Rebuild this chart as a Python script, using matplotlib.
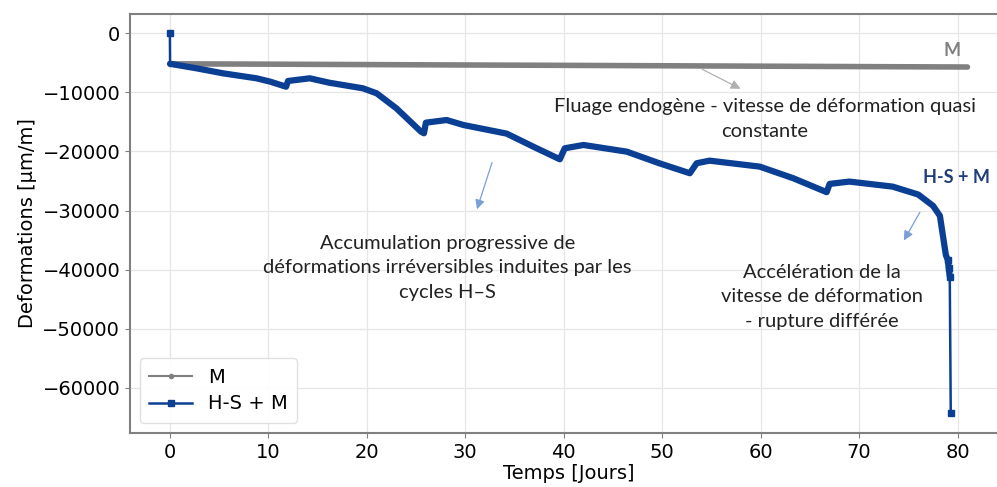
import matplotlib.pyplot as plt
import numpy as np

# M : fluage endogene seul
t_m = [0.0, 10, 20, 30, 40, 50, 60, 70, 81.0]
d_m = [-5200, -5260, -5330, -5400, -5460, -5530, -5600, -5670, -5740]

# H-S + M : cycles humidification-sechage + chargement
t_hs = [0.0, 0.02, 2.7, 5.4, 8.8, 10.2, 11.8, 12.0, 14.2, 16.2, 19.6, 21.0, 23.0,
        25.5, 25.8, 26.0, 28.1, 29.8, 34.2, 36.9, 39.6, 40.1, 42.0, 46.4, 49.7,
        52.8, 53.5, 54.8, 59.9, 63.3, 66.7, 67.0, 69.0, 73.4, 76.0, 77.5, 78.2,
        78.5, 78.8, 79.0, 79.1, 79.2, 79.3]
d_hs = [0, -5200, -5960, -6810, -7650, -8220, -9070, -8100, -7650, -8400, -9340,
        -10190, -12720, -16670, -16940, -15150, -14700, -15540, -17000, -19200,
        -21340, -19480, -18920, -20050, -22010, -23700, -22010, -21570, -22580,
        -24540, -26900, -25500, -25110, -25960, -27300, -29200, -30900, -34200,
        -37500, -38350, -39750, -41160, -64240]

grey = '#808080'
blue = '#0b3f93'
arrow_blue = '#7a9fd8'

fig = plt.figure(figsize=(9.97, 4.87), dpi=100)
ax = fig.add_axes([0.1304, 0.111, 0.880, 0.860])

# traits epais (nuage de points dense dans l'original)
ax.plot(t_m, d_m, color=grey, lw=4, solid_capstyle='round', zorder=2)
ax.plot(t_hs[1:-1], d_hs[1:-1], color=blue, lw=4.5, solid_joinstyle='round',
        solid_capstyle='round', zorder=3)
# series completes (legende)
ax.plot(t_m, d_m, color=grey, lw=1.5, marker='o', ms=3, markevery=[0], label='M', zorder=2)
ax.plot(t_hs, d_hs, color=blue, lw=1.8, marker='s', ms=4.5,
        markevery=[0, len(t_hs) - 4, len(t_hs) - 3, len(t_hs) - 2, len(t_hs) - 1],
        label='H-S + M', zorder=3)

ax.set_xlim(-4.05, 85.05)
ax.set_ylim(-67600, 3200)
ax.set_xticks([0, 10, 20, 30, 40, 50, 60, 70, 80])
ax.set_yticks([0, -10000, -20000, -30000, -40000, -50000, -60000])
ax.tick_params(labelsize=14, color=grey)
ax.grid(True, color='#e6e6e6', lw=0.9)
ax.set_axisbelow(True)
for s in ax.spines.values():
    s.set_color(grey)
    s.set_linewidth(1.5)

ax.set_xlabel('Temps [Jours]', fontsize=14, labelpad=2)
ax.set_ylabel('Deformations [µm/m]', fontsize=14)

leg = ax.legend(loc='lower left', fontsize=14, handlelength=2.2, borderpad=0.5,
                labelspacing=0.4, framealpha=0.9, edgecolor='#dddddd')

fnt = 'Lato'
fs = 14.5
ls = 1.55
ax.annotate('', xy=(58.2, -9630), xytext=(53.8, -5910),
            arrowprops=dict(arrowstyle='-|>', color='#b0b0b0', lw=0.9, mutation_scale=14))
ax.text(60.4, -14530, 'Fluage endogène - vitesse de déformation quasi\nconstante',
        ha='center', va='center', fontsize=fs, family=fnt, color='#222222', linespacing=ls)

ax.annotate('', xy=(31.1, -30240), xytext=(32.8, -21450),
            arrowprops=dict(arrowstyle='-|>', color=arrow_blue, lw=0.9, mutation_scale=14))
ax.text(28.2, -39700, 'Accumulation progressive de\ndéformations irréversibles induites par les\ncycles H–S',
        ha='center', va='center', fontsize=fs, family=fnt, color='#222222', linespacing=ls)

ax.annotate('', xy=(74.4, -35470), xytext=(76.3, -29900),
            arrowprops=dict(arrowstyle='-|>', color=arrow_blue, lw=0.9, mutation_scale=14))
ax.text(66.2, -44600, 'Accélération de la\nvitesse de déformation\n- rupture différée',
        ha='center', va='center', fontsize=fs, family=fnt, color='#222222', linespacing=ls)

ax.text(79.4, -2870, 'M', ha='center', va='center', fontsize=13, family=fnt,
        fontweight='bold', color=grey)
ax.text(79.9, -24490, 'H-S + M', ha='center', va='center', fontsize=13, family=fnt,
        fontweight='bold', color='#1f3d7a')

fig.savefig('out.png', dpi=100)
